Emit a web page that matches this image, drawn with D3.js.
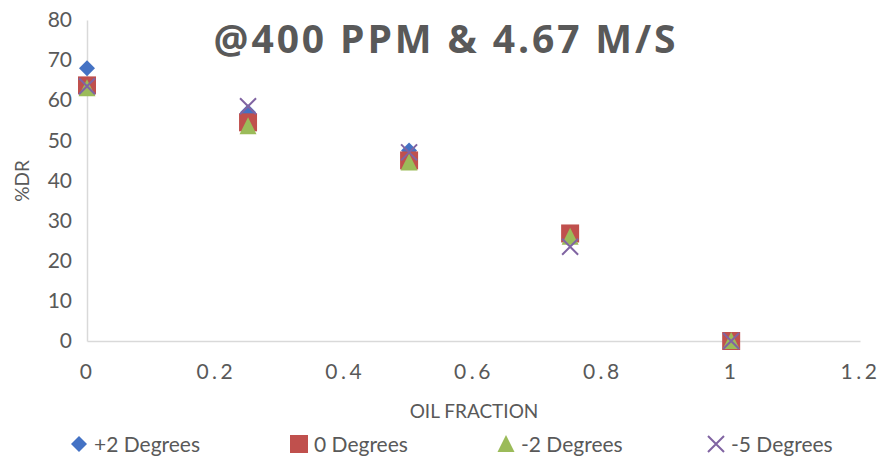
<!DOCTYPE html>
<html><head><meta charset="utf-8">
<script src="https://cdn.jsdelivr.net/npm/d3@7"></script>
<style>body{margin:0;background:#fff}svg{display:block}</style>
</head><body>
<svg id="c" width="883" height="456"></svg>
<script>
const oilFraction = [0, 0.25, 0.5, 0.75, 1];
const seriesNames = ["+2 Degrees", "0 Degrees", "-2 Degrees", "-5 Degrees"];
const plus2 = [68, 57, 47.5, 26, 0];
const zero = [63.7, 54.5, 45, 26.8, 0];
const minus2 = [63, 53.5, 44.5, 26, 0];
const minus5 = [63.5, 58.5, 47, 23.5, 0];
const xTicks = [0, 0.2, 0.4, 0.6, 0.8, 1, 1.2];
const yTicks = [0, 10, 20, 30, 40, 50, 60, 70, 80];
const colors = ["#4472C4", "#C0504D", "#9BBB59", "#8064A2"];
const shapes = ["diamond", "square", "triangle", "cross"];
const allSeries = [plus2, zero, minus2, minus5];

const svg = d3.select("#c");
const font = "Lato, 'Open Sans', sans-serif";
const x = d3.scaleLinear().domain([0, 1.2]).range([87, 860]);
const y = d3.scaleLinear().domain([0, 80]).range([341, 20]);

// axes
const xAxis = svg.append("g").attr("transform", `translate(0,${y(0)})`)
  .call(d3.axisBottom(x).tickValues(xTicks).tickSize(0).tickPadding(23)
    .tickFormat(d => d === 0 || d === 1 ? String(d) : d3.format(".1f")(d)));
xAxis.select(".domain").attr("stroke", "#d9d9d9").attr("stroke-width", 1.5);
xAxis.selectAll("text").attr("fill", "#595959").attr("font-size", 21).attr("font-family", font)
  .attr("letter-spacing", "3.5px");

const yAxis = svg.append("g").attr("transform", `translate(${x(0)},0)`)
  .call(d3.axisLeft(y).tickValues(yTicks).tickSize(0).tickPadding(15));
yAxis.select(".domain").attr("stroke", "#d9d9d9").attr("stroke-width", 1.5);
yAxis.selectAll("text").attr("fill", "#595959").attr("font-size", 21).attr("font-family", font);

// titles
svg.append("text").attr("x", 446).attr("y", 53).attr("text-anchor", "middle")
  .attr("font-family", "'Open Sans', sans-serif").attr("font-weight", "bold")
  .attr("font-size", 39).attr("letter-spacing", "2.9px").attr("fill", "#595959")
  .text("@400 PPM & 4.67 M/S");
svg.append("text").attr("x", 474).attr("y", 418).attr("text-anchor", "middle")
  .attr("font-family", font).attr("font-size", 19).attr("fill", "#595959").text("OIL FRACTION");
svg.append("text").attr("transform", "translate(29,181) rotate(-90)").attr("text-anchor", "middle")
  .attr("font-family", font).attr("font-size", 19).attr("fill", "#595959").text("%DR");

function drawMarker(g, shape, color, cx, cy) {
  if (shape === "diamond") {
    g.append("path").attr("d", `M${cx},${cy-8}L${cx+8},${cy}L${cx},${cy+8}L${cx-8},${cy}Z`).attr("fill", color);
  } else if (shape === "square") {
    g.append("rect").attr("x", cx-9).attr("y", cy-9).attr("width", 18).attr("height", 18).attr("fill", color);
  } else if (shape === "triangle") {
    g.append("path").attr("d", `M${cx},${cy-9}L${cx+8.5},${cy+8}L${cx-8.5},${cy+8}Z`).attr("fill", color);
  } else {
    g.append("path").attr("d", `M${cx-8},${cy-8}L${cx+8},${cy+8}M${cx+8},${cy-8}L${cx-8},${cy+8}`)
      .attr("stroke", color).attr("stroke-width", 2).attr("fill", "none");
  }
}

const plot = svg.append("g");
allSeries.forEach((vals, i) => {
  const g = plot.append("g");
  vals.forEach((v, j) => drawMarker(g, shapes[i], colors[i], x(oilFraction[j]), y(v)));
});

// legend
const legendX = [79, 299, 506, 716];
const leg = svg.append("g");
seriesNames.forEach((n, i) => {
  const g = leg.append("g");
  drawMarker(g, shapes[i], colors[i], legendX[i], 444);
  g.append("text").attr("x", legendX[i] + 15).attr("y", 452).attr("font-family", font)
    .attr("font-size", 21).attr("fill", "#595959").text(n);
});
</script>
</body></html>
